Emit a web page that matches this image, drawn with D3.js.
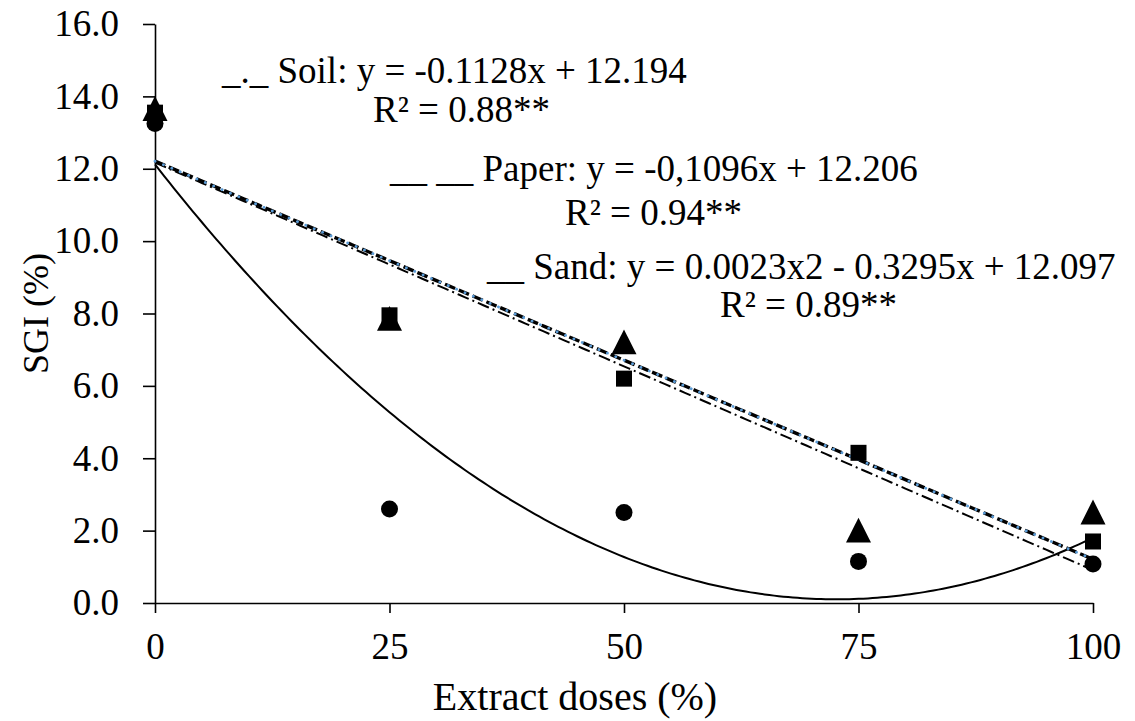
<!DOCTYPE html>
<html>
<head>
<meta charset="utf-8">
<script src="https://cdn.jsdelivr.net/npm/d3@7"></script>
<style>
  body { margin: 0; background: #fff; }
  svg text { font-family: "Liberation Serif", "DejaVu Serif", serif !important; fill: #000; }
</style>
</head>
<body>
<svg id="chart" width="1135" height="721" font-family="Liberation Serif"></svg>
<script>
//values
var doses = [0, 25, 50, 75, 100];
var soil = [13.55, 7.75, 7.1, 1.9, 2.4];     //triangles
var paper = [13.55, 7.95, 6.2, 4.15, 1.7];   //squares
var sand = [13.25, 2.6, 2.5, 1.15, 1.08];    //circles

var yTicks = [0, 2, 4, 6, 8, 10, 12, 14, 16];
var xTicks = [0, 25, 50, 75, 100];

var labels = [
  {text: "_._ Soil: y = -0.1128x + 12.194", x: 222, y: 83},
  {text: "R\u00B2 = 0.88**", x: 373, y: 122},
  {text: "__ __ Paper: y = -0,1096x + 12.206", x: 390, y: 181},
  {text: "R\u00B2 = 0.94**", x: 565, y: 225},
  {text: "__ Sand: y = 0.0023x2 - 0.3295x + 12.097", x: 487, y: 279},
  {text: "R\u00B2 = 0.89**", x: 720, y: 317}
];

//plot area
var margin = {top: 24, left: 155, right: 42, bottom: 118};
var width = 1135 - margin.left - margin.right,
    height = 721 - margin.top - margin.bottom;

var svg = d3.select("#chart");
var g = svg.append("g")
    .attr("transform", "translate(" + margin.left + "," + margin.top + ")");

var x = d3.scaleLinear().domain([0, 100]).range([0, width]);
var y = d3.scaleLinear().domain([0, 16]).range([height, 0]);

//least squares fits for the trend lines
function linFit(xs, ys) {
  var mx = d3.mean(xs), my = d3.mean(ys);
  var b = d3.sum(xs, (v, i) => (v - mx) * (ys[i] - my)) / d3.sum(xs, v => (v - mx) * (v - mx));
  return v => my + b * (v - mx);
}
function quadFit(xs, ys) {
  //normal equations for a + b x + c x^2
  var s = [0, 0, 0, 0, 0], t = [0, 0, 0];
  xs.forEach(function(v, i) {
    for (var k = 0; k < 5; k++) s[k] += Math.pow(v, k);
    for (var k = 0; k < 3; k++) t[k] += Math.pow(v, k) * ys[i];
  });
  var m = [[s[0], s[1], s[2], t[0]], [s[1], s[2], s[3], t[1]], [s[2], s[3], s[4], t[2]]];
  for (var i = 0; i < 3; i++) {
    for (var j = i + 1; j < 3; j++) {
      var f = m[j][i] / m[i][i];
      for (var k = i; k < 4; k++) m[j][k] -= f * m[i][k];
    }
  }
  var c = [0, 0, 0];
  for (var i = 2; i >= 0; i--) {
    var sum = m[i][3];
    for (var k = i + 1; k < 3; k++) sum -= m[i][k] * c[k];
    c[i] = sum / m[i][i];
  }
  return v => c[0] + c[1] * v + c[2] * v * v;
}

var steps = d3.range(0, 100.5, 0.5);
function trend(fn) {
  return d3.line()
    .x(d => x(d))
    .y(d => y(fn(d)))(steps);
}

//axes
var yAxis = g.append("g")
    .call(d3.axisLeft(y).tickValues(yTicks).tickSize(12).tickSizeOuter(0).tickPadding(24)
      .tickFormat(d3.format(".1f")));
var xAxis = g.append("g")
    .attr("transform", "translate(0," + height + ")")
    .call(d3.axisBottom(x).tickValues(xTicks).tickSize(10).tickSizeOuter(0).tickPadding(20));

[yAxis, xAxis].forEach(function(a) {
  a.attr("font-family", "Liberation Serif").attr("font-size", 37);
  a.selectAll("path").attr("stroke", "#000").attr("stroke-width", 1.6);
  a.selectAll("line").attr("stroke", "#000").attr("stroke-width", 1.6);
  a.selectAll("text").attr("fill", "#000");
});

//trend lines
var sandFn = quadFit(doses, sand),
    soilFn = linFit(doses, soil),
    paperFn = linFit(doses, paper);

g.append("path").attr("d", trend(sandFn))
    .attr("fill", "none").attr("stroke", "#000").attr("stroke-width", 2);
g.append("path").attr("d", trend(soilFn))
    .attr("fill", "none").attr("stroke", "#000").attr("stroke-width", 2)
    .attr("stroke-dasharray", "12,4,2,4");
g.append("path").attr("d", trend(paperFn))
    .attr("fill", "none").attr("stroke", "#000").attr("stroke-width", 3.4)
    .attr("stroke-dasharray", "11,4");
g.append("path").attr("d", trend(paperFn))
    .attr("fill", "none").attr("stroke", "#5b9bd5").attr("stroke-width", 2.8)
    .attr("stroke-linecap", "round")
    .attr("stroke-dasharray", "0.1,9");

//markers
var tri = d3.symbol().type(d3.symbolTriangle).size(270);
g.selectAll(".tri")
    .data(doses)
    .enter().append("path")
    .attr("class", "tri")
    .attr("d", tri)
    .attr("transform", (d, i) => "translate(" + x(d) + "," + y(soil[i]) + ") scale(1,1.15)")
    .attr("fill", "#000");

g.selectAll(".sq")
    .data(doses)
    .enter().append("rect")
    .attr("class", "sq")
    .attr("x", d => x(d) - 8)
    .attr("y", (d, i) => y(paper[i]) - 8)
    .attr("width", 16)
    .attr("height", 16)
    .attr("fill", "#000");

g.selectAll(".dot")
    .data(doses)
    .enter().append("circle")
    .attr("class", "dot")
    .attr("cx", d => x(d))
    .attr("cy", (d, i) => y(sand[i]))
    .attr("r", 8.5)
    .attr("fill", "#000");

//equation labels
svg.selectAll(".eq")
    .data(labels)
    .enter().append("text")
    .attr("class", "eq")
    .attr("x", d => d.x)
    .attr("y", d => d.y)
    .attr("font-size", 37)
    .text(d => d.text);

//axis titles
svg.append("text")
    .attr("x", 575)
    .attr("y", 710)
    .attr("text-anchor", "middle")
    .attr("font-size", 40)
    .text("Extract doses (%)");

svg.append("text")
    .attr("transform", "translate(48," + (margin.top + height / 2) + ") rotate(-90)")
    .attr("text-anchor", "middle")
    .attr("font-size", 36)
    .text("SGI (%)");
</script>
</body>
</html>
